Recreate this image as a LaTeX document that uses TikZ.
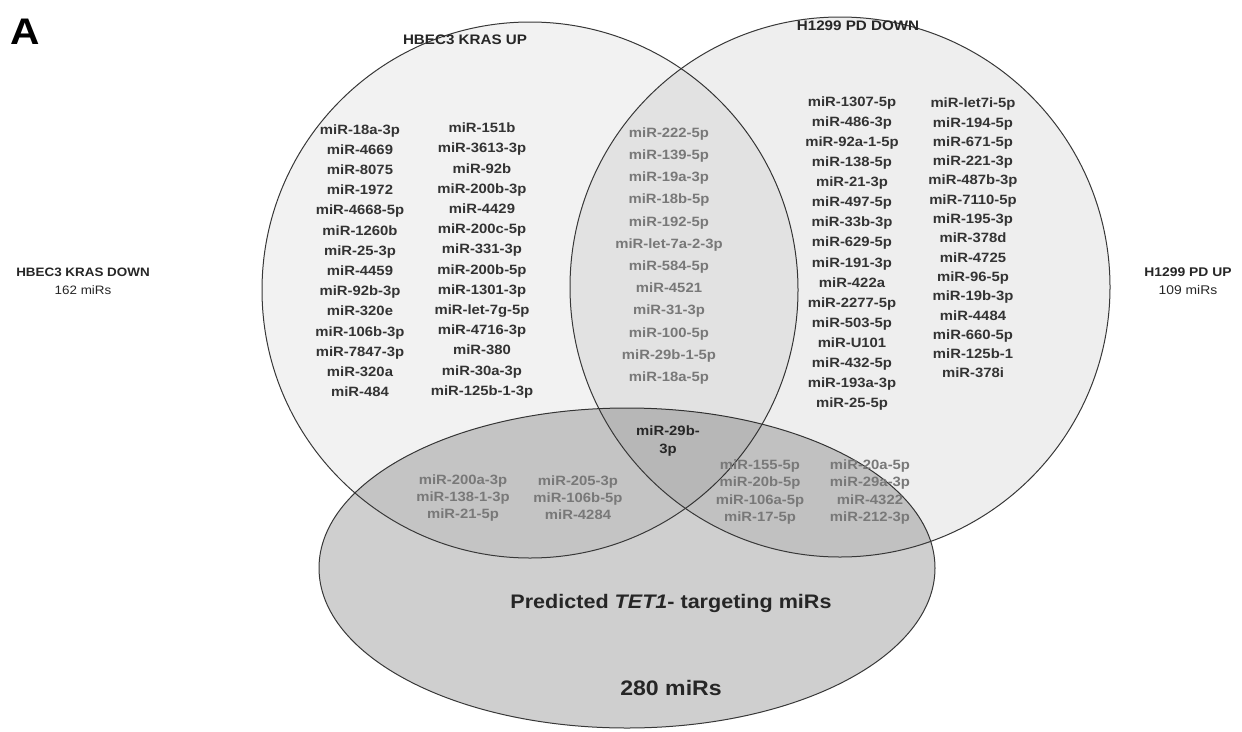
\documentclass[tikz,border=0pt]{standalone}
\usepackage{fontspec}
\setmainfont{Liberation Sans}[FakeStretch=1.1]
\usetikzlibrary{shapes.geometric}
\definecolor{vennline}{gray}{0.22}
\definecolor{listdark}{gray}{0.2}
\definecolor{listgray}{gray}{0.47}
\begin{document}
\begin{tikzpicture}[x=1pt,y=-1pt,
  venn/.style={draw=vennline,line width=1pt,fill=black,fill opacity=#1,inner sep=0pt},
  setlist/.style={align=center,inner sep=0pt,text=listdark,font=\fontsize{13.5}{#1}\selectfont\bfseries},
  setlist/.default=20.2,
  setname/.style={inner sep=0pt,text=black!85,font=\fontsize{#1}{18}\selectfont\bfseries},
  setname/.default=13.8]
  \useasboundingbox (0,0) rectangle (1242,731);
  \node[venn=0.19,ellipse,minimum width=616pt,minimum height=320pt] (tet) at (627,568) {};
  \node[venn=0.05,circle,minimum size=536pt] (krasup) at (530,290) {};
  \node[venn=0.065,circle,minimum size=540pt] (pddown) at (840,287) {};
  \node[inner sep=0pt,font=\fontsize{37}{40}\selectfont\bfseries] (panel) at (25,32) {A};
  \node[setname] (krasuplabel) at (465,40) {HBEC3 KRAS UP};
  \node[setname] (pddownlabel) at (858,26) {H1299 PD DOWN};
  \node[setname=12.2,align=center] (krasdown) at (83,281) {HBEC3 KRAS DOWN\\\mdseries 162 miRs};
  \node[setname=12.6,align=center] (pdup) at (1188,281) {H1299 PD UP\\\mdseries 109 miRs};
  \node[setlist] (krasA) at (360,260.5) {miR-18a-3p\\miR-4669\\miR-8075\\miR-1972\\miR-4668-5p\\miR-1260b\\miR-25-3p\\miR-4459\\miR-92b-3p\\miR-320e\\miR-106b-3p\\miR-7847-3p\\miR-320a\\miR-484};
  \node[setlist] (krasB) at (482,260.5) {miR-151b\\miR-3613-3p\\miR-92b\\miR-200b-3p\\miR-4429\\miR-200c-5p\\miR-331-3p\\miR-200b-5p\\miR-1301-3p\\miR-let-7g-5p\\miR-4716-3p\\miR-380\\miR-30a-3p\\miR-125b-1-3p};
  \node[setlist=22.2,text=listgray] (krasxpd) at (669,256) {miR-222-5p\\miR-139-5p\\miR-19a-3p\\miR-18b-5p\\miR-192-5p\\miR-let-7a-2-3p\\miR-584-5p\\miR-4521\\miR-31-3p\\miR-100-5p\\miR-29b-1-5p\\miR-18a-5p};
  \node[setlist=20.07] (pdA) at (852,253.5) {miR-1307-5p\\miR-486-3p\\miR-92a-1-5p\\miR-138-5p\\miR-21-3p\\miR-497-5p\\miR-33b-3p\\miR-629-5p\\miR-191-3p\\miR-422a\\miR-2277-5p\\miR-503-5p\\miR-U101\\miR-432-5p\\miR-193a-3p\\miR-25-5p};
  \node[setlist=19.3] (pdB) at (973,238) {miR-let7i-5p\\miR-194-5p\\miR-671-5p\\miR-221-3p\\miR-487b-3p\\miR-7110-5p\\miR-195-3p\\miR-378d\\miR-4725\\miR-96-5p\\miR-19b-3p\\miR-4484\\miR-660-5p\\miR-125b-1\\miR-378i};
  \node[setlist=18,text=black!85] (allthree) at (668,441) {miR-29b-\\3p};
  \node[setlist=17,text=listgray] (krasxtetA) at (463,498) {miR-200a-3p\\miR-138-1-3p\\miR-21-5p};
  \node[setlist=17,text=listgray] (krasxtetB) at (578,498) {miR-205-3p\\miR-106b-5p\\miR-4284};
  \node[setlist=17.5,text=listgray] (pdxtetA) at (760,492) {miR-155-5p\\miR-20b-5p\\miR-106a-5p\\miR-17-5p};
  \node[setlist=17.5,text=listgray] (pdxtetB) at (870,492) {miR-20a-5p\\miR-29a-3p\\miR-4322\\miR-212-3p};
  \node[inner sep=0pt,text=black!85,font=\fontsize{19.6}{24}\selectfont\bfseries] (tetlabel) at (671,603) {Predicted \textit{TET1}- targeting miRs};
  \node[inner sep=0pt,text=black!85,font=\fontsize{21}{24}\selectfont\bfseries] (tetcount) at (671,688) {280 miRs};
\end{tikzpicture}
\end{document}
